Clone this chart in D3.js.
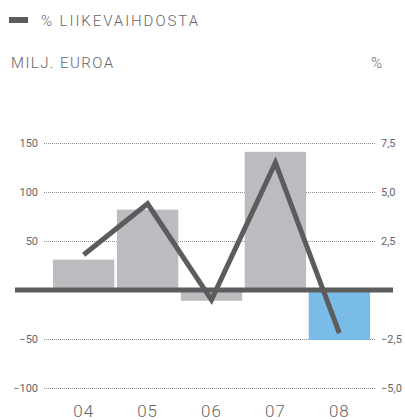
<!DOCTYPE html>
<html><head><meta charset="utf-8">
<script src="https://cdn.jsdelivr.net/npm/d3@7"></script>
<style>
body{margin:0;background:#fff;}
text{font-family:Roboto, "DejaVu Sans", sans-serif;}
</style></head>
<body>
<svg id="c" width="405" height="420"></svg>
<script>
const years = ["04","05","06","07","08"];
const sales = [31, 82, -11, 141, -51];        // MILJ. EUROA
const pct = [1.8, 4.4, -0.5, 6.5, -2.2];       // % LIIKEVAIHDOSTA
const leftTicks = [150, 100, 50, -50, -100];
const rightTicks = [7.5, 5, 2.5, -2.5, -5];

const svg = d3.select("#c");
const x = d3.scaleBand().domain(years).range([53, 370]).paddingInner(0.04).paddingOuter(0);
const yL = d3.scaleLinear().domain([-100, 150]).range([388, 143]);
const yR = d3.scaleLinear().domain([-5, 7.5]).range([388, 143]);

const gL = svg.append("g").attr("transform","translate(44,0)")
  .call(d3.axisLeft(yL).tickValues(leftTicks).tickSize(-332).tickPadding(6));
gL.select(".domain").remove();
gL.selectAll("line").attr("stroke","#8a8a8a").attr("stroke-dasharray","1,1");
gL.selectAll("text").attr("fill","#666").style("font-size","11px");

const gR = svg.append("g").attr("transform","translate(376,0)")
  .call(d3.axisRight(yR).tickValues(rightTicks).tickSize(0).tickPadding(5)
    .tickFormat(d => d3.format(".1f")(d).replace(".", ",")));
gR.select(".domain").remove();
gR.selectAll("text").attr("fill","#666").style("font-size","11px");

svg.append("g").selectAll("rect").data(years).join("rect")
  .attr("x", d => x(d))
  .attr("width", x.bandwidth())
  .attr("y", (d,i) => Math.min(yL(sales[i]), yL(0)))
  .attr("height", (d,i) => Math.abs(yL(sales[i]) - yL(0)))
  .attr("fill", (d,i) => i === 4 ? "#79bce8" : "#bbbcbf");

svg.append("line").attr("x1",15).attr("x2",393).attr("y1",yL(0)).attr("y2",yL(0))
  .attr("stroke","#5c5c5e").attr("stroke-width",5);

const line = d3.line().x((d,i) => x(years[i]) + x.bandwidth()/2).y(d => yR(d));
svg.append("path").datum(pct).attr("d", line)
  .attr("fill","none").attr("stroke","#5c5c5e").attr("stroke-width",5)
  .attr("stroke-linejoin","miter");

const gx = svg.append("g").attr("transform","translate(0,400)")
  .call(d3.axisBottom(x).tickSize(0).tickPadding(0));
gx.select(".domain").remove();
gx.selectAll("text").attr("fill","#666").attr("dy","17px").style("font-size","17px").style("font-weight","300").attr("letter-spacing","1px");

// legend
svg.append("rect").attr("x",9).attr("y",17).attr("width",19).attr("height",6).attr("fill","#5c5c5e");
svg.append("text").attr("x",41).attr("y",26).text("% LIIKEVAIHDOSTA")
  .attr("fill","#666").style("font-size","15px").style("font-weight","300").attr("textLength",157).attr("lengthAdjust","spacing");
svg.append("text").attr("x",11).attr("y",68).text("MILJ. EUROA")
  .attr("fill","#666").style("font-size","15px").style("font-weight","300").attr("textLength",102).attr("lengthAdjust","spacing");
svg.append("text").attr("x",371).attr("y",68).text("%")
  .attr("fill","#666").style("font-size","15px").style("font-weight","300");
</script>
</body></html>
